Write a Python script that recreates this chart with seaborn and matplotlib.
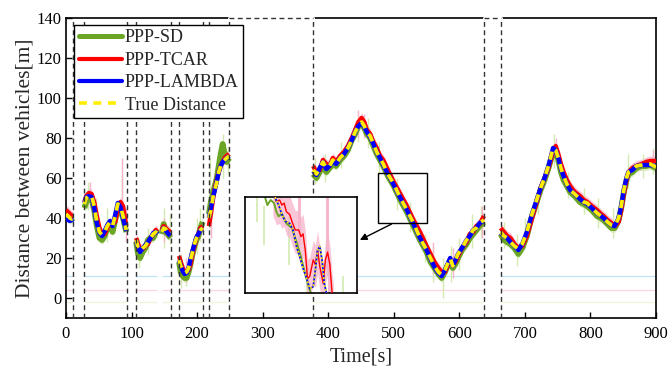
import numpy as np
import pandas as pd
import matplotlib
matplotlib.use("Agg")
import matplotlib.pyplot as plt
from matplotlib.lines import Line2D
from matplotlib.patches import Rectangle
import seaborn as sns

# ---------------- data ----------------
TIME = [0, 3, 6, 9, 11,
        28, 31, 35, 39, 43, 47, 51, 55, 59, 63, 67, 71, 75, 79, 83, 87, 92,
        107, 110, 113, 117, 121, 125, 129, 133, 137, 139.5,
        146, 149, 152, 155, 159.5,
        172.5, 175, 178, 181, 184, 187, 190, 193, 196, 199, 202, 205, 208.5,
        218, 221, 224, 227, 230, 233, 236, 239, 242, 245, 249,
        377, 382, 387, 392, 397, 402, 407, 412, 418, 424, 430, 436, 441, 446, 451, 455, 459, 464, 469, 474,
        479, 484, 491, 500, 510, 520, 530, 540, 550, 556, 562, 568, 573, 578, 582, 586, 590, 594, 598, 604,
        611, 616, 621, 626, 631, 637.5,
        663, 668, 673, 678, 684, 690, 696, 703, 710, 718, 724, 730, 736, 743, 747, 751, 755, 759, 764, 769,
        776, 784, 790, 795, 802, 810, 816, 820, 826, 832, 837, 843, 847, 851, 855, 858, 864, 870, 878, 885,
        891, 900]

TRUE_DIST = [42, 41, 40, 39.5, 40,
             47, 50, 51.5, 51, 46, 38, 33, 31.5, 33, 36, 38, 36, 41, 47, 46, 41, 34,
             29, 25, 23.5, 25, 26, 28, 30, 32, 33, 32,
             33, 35, 34.5, 33, 31,
             19, 16, 14, 12.5, 13, 15, 19, 23, 27, 30, 32, 34, 35,
             40, 44, 50, 54, 58, 63, 66, 68, 69, 70, 71,
             64, 62, 65, 68, 65, 66, 69, 67, 70, 72, 75, 79, 83, 86, 88, 86, 83, 81, 77, 73,
             70, 67, 62, 57, 50, 44, 37.5, 30, 24, 20, 16, 13, 11.5, 14, 17, 20, 16, 19, 22, 25,
             29, 31, 34, 35, 37.5, 39,
             33, 31, 30, 28, 26, 24.5, 27, 33, 41, 49, 55, 60, 66, 75, 74, 70, 65, 61, 57, 54,
             52, 49.5, 48, 47.5, 45, 42.5, 41, 40, 38, 36.5, 36, 40, 46, 54, 60, 63, 64, 66, 66.5, 67,
             67, 65.5]

PPP_TCAR = [44, 43, 42, 41, 41,
            48, 51, 52.5, 52, 48, 41, 35, 32, 32, 35, 38, 37, 38, 44, 48, 46, 36,
            30, 27, 24.5, 24.5, 26, 27, 30, 32, 34, 33,
            34, 36, 35, 34, 33,
            21, 18, 15, 13, 13, 14, 17, 22, 26, 30, 32, 35, 36,
            36, 42, 49, 55, 59, 63, 66, 68, 70, 71, 72,
            66, 63, 64, 69, 67, 66, 70, 68, 71, 73, 76, 80, 84, 88, 90, 88, 84, 82, 78, 75,
            71, 69, 64, 58, 52, 46, 39, 33, 26, 22, 18, 15, 13, 13, 16, 19, 18, 18, 21, 25,
            28, 32, 33, 36, 37, 41,
            35, 33, 31, 30, 27, 25, 26, 31, 39, 48, 55, 60, 65, 73, 76, 72, 67, 63, 59, 56,
            53, 51, 49, 48, 46, 44, 42, 41, 39, 37.5, 36, 38, 44, 52, 59, 63, 65, 66, 67, 68,
            68.5, 68.5]

PPP_LAMBDA = [40, 39, 38.5, 39, 39.5,
              47.5, 50.5, 51, 50.5, 45, 37.5, 32.5, 31, 33.5, 36.5, 38.5, 36, 41.5, 47.5, 45.5, 40, 33.5,
              28.5, 25, 23, 25, 26.5, 28, 30, 32.5, 33, 32,
              33, 35, 34, 32.5, 31,
              19, 16, 13.5, 12, 12.5, 15, 19.5, 23.5, 27, 30.5, 32, 34, 35,
              40, 45, 50, 54, 58.5, 63, 66, 68, 69, 70, 71,
              63.5, 61.5, 65, 68, 64.5, 66, 68.5, 67, 70, 72, 75, 79, 83, 86, 87.5, 85.5, 83, 80.5, 77, 73,
              70, 66.5, 62, 56.5, 50, 44, 37, 30, 24, 19.5, 15.5, 12.5, 11, 14, 17, 20, 16, 19, 22, 25,
              29, 31, 34, 35, 37.5, 38.5,
              32.5, 31, 30, 28, 26, 24, 27, 33, 41, 49, 55, 60, 66, 75, 74, 70, 64.5, 61, 57, 54,
              52, 49.5, 48, 47, 45, 42.5, 41, 40, 38, 36.5, 36, 40, 46, 54, 60, 63, 64, 66, 66.5, 66.5,
              66.5, 66]

PPP_SD = [41, 40.5, 39, 39.5, 40,
          45, 48, 50, 50, 44, 36, 30, 29, 31, 35, 37, 33, 39, 45, 44, 40, 33,
          28, 22, 20, 23, 25, 29, 30, 30, 33, 32,
          32, 37, 33, 32, 30,
          18, 13, 11, 10, 10, 13, 17, 22, 26, 29, 31, 35, 38,
          42, 48, 52, 56, 60, 66, 72, 77, 72, 68, 70,
          62, 60, 63, 67, 63, 65, 67, 66, 69, 71, 74, 79, 82, 86, 87, 85, 82, 80, 76, 72,
          69, 66, 61, 56, 49, 43, 36, 29, 23, 18, 15, 12, 10, 13, 16, 18, 15, 17, 20, 24,
          27, 30, 32, 34, 36, 38,
          32, 29, 28, 27, 25, 22, 25, 31, 40, 48, 54, 59, 65, 73, 73, 69, 63, 59, 56, 53,
          51, 48, 47, 46, 44, 41, 40, 39, 37, 35, 35, 39, 45, 53, 59, 62, 63, 65, 66, 66,
          66.5, 65]

# signal outage intervals (dashed boundaries) and a short data drop without markers
GAP_START = [11, 92.5, 160, 208.5, 249, 637.5]
GAP_END = [28, 107, 172.5, 218, 377, 663]
DROP_START = [139.5]
DROP_END = [146]
BIG_GAPS = [4, 5]

# thin vertical noise spikes (time, low, high)
SPIKE_SD_T = [33, 45, 63, 85, 112, 125, 150, 158, 176, 183, 200, 205, 219, 240, 247, 380, 395, 420, 445,
              460, 478, 505, 525, 548, 560, 575, 588, 600, 620, 633, 668, 688, 700, 720, 745, 765, 790,
              812, 835, 858, 880, 895]
SPIKE_SD_LO = [44, 35, 28, 38, 15, 22, 25, 27, 5, 6, 22, 28, 35, 60, 62, 57, 58, 65, 78,
               75, 62, 44, 33, 18, 8, 0, 8, 14, 25, 30, 25, 16, 25, 42, 65, 50, 42,
               35, 30, 55, 60, 62]
SPIKE_SD_HI = [58, 50, 45, 62, 30, 35, 45, 42, 22, 18, 40, 45, 70, 82, 76, 70, 72, 78, 92,
               90, 78, 60, 48, 32, 26, 20, 26, 30, 42, 46, 38, 32, 40, 56, 82, 63, 55,
               50, 45, 72, 72, 75]
SPIKE_TC_T = [36, 85, 92, 150, 183, 221, 445, 455, 560, 590, 634, 748, 895]
SPIKE_TC_LO = [45, 40, 28, 28, 8, 30, 80, 80, 12, 10, 30, 68, 66]
SPIKE_TC_HI = [58, 70, 45, 40, 20, 50, 94, 92, 28, 25, 46, 80, 74]

# faint reference levels drawn under the data periods
LEVEL_VALUES = [11.1, 4.0, -2.2]
LEVEL_COLORS = ["#bfe3f5", "#fbd5e2", "#eef5d8"]

# zoom window and inset data
ZOOM_X = [475.5, 550]
ZOOM_Y = [37.6, 62.3]
IN_T_TRUE = [494, 495.6, 497.9, 500.1, 502.3, 505.3, 507.5, 509.8, 512.0, 514.2, 516.5, 518.7, 521.0,
             522.4, 523.9, 525.4, 526.9, 528.4, 529.9, 531.4]
IN_V_TRUE = [64.3, 62.3, 60.3, 57.9, 56.1, 55.6, 53.9, 49.7, 47.0, 44.0, 41.6, 38.8, 39.3, 43.5, 48.7,
             49.7, 46.2, 40.1, 37.6, 35.1]
IN_T_TCAR = [494.1, 495.6, 496.4, 498.6, 500.1, 501.6, 503.1, 505.3, 506.8, 509.0, 511.3, 512.8, 514.2,
             515.7, 517.2, 518.7, 521.0, 522.4, 523.9, 525.4, 527.7, 529.1, 530.6, 532.1, 533.6, 534.4]
IN_V_TCAR = [63.5, 62.1, 61.2, 61.6, 60.3, 60.8, 58.6, 57.9, 56.1, 53.9, 53.9, 52.2, 52.9, 48.7, 41.3,
             42.0, 46.2, 45.0, 48.7, 44.5, 40.1, 46.2, 48.2, 45.0, 37.6, 35.1]
IN_T_SD = [487.4, 488.9, 490.4, 492.6, 494.9, 496.4, 497.9, 500.1, 503.1, 506.8, 509.8, 512.8, 515.7,
           518.0, 519.5, 521.0]
IN_V_SD = [63.5, 62.3, 60.3, 61.6, 60.8, 58.6, 57.4, 58.1, 55.6, 54.4, 50.9, 47.0, 42.5, 39.3, 37.6, 35.1]
IN_SPIKE_T = [483.5, 488, 505, 517, 531, 541]
IN_SPIKE_LO = [56, 50, 45, 37.6, 42, 37.6]
IN_SPIKE_HI = [62.3, 60, 58, 45, 62.3, 42]
IN_PSPIKE_T = [511.3, 529.9, 531.5]
IN_PSPIKE_LO = [50, 44, 37.6]
IN_PSPIKE_HI = [62.3, 62.3, 46]

# ---------------- styling ----------------
sns.set_style("ticks")
plt.rcParams["font.family"] = ["Liberation Serif", "DejaVu Serif"]

C_SD = "#6aa523"
C_TC = "#ff0000"
C_LB = "#0000ff"
C_TR = "#ffee00"
C_PINK = "#f7b3cc"
C_LGREEN = "#d3eab0"

fig = plt.figure(figsize=(6.71, 3.79), dpi=100)
ax = fig.add_axes([66 / 671, 1 - 318 / 379, 590 / 671, 300 / 379])

t = np.array(TIME, dtype=float)
bounds = sorted(GAP_START + DROP_START)
seg = np.digitize(t, bounds, right=True)
df = pd.DataFrame({"t": t, "seg": seg, "true": TRUE_DIST, "tcar": PPP_TCAR,
                   "lambda": PPP_LAMBDA, "sd": PPP_SD})

for s, g in df.groupby("seg"):
    for val, col in zip(LEVEL_VALUES, LEVEL_COLORS):
        ax.hlines(val, g.t.min(), g.t.max(), color=col, lw=0.9, zorder=1)

for s, g in df.groupby("seg"):
    ax.fill_between(g.t, g.sd - 2.2, g.sd + 2.2, color=C_LGREEN, lw=0, zorder=1.5, alpha=0.8)
    ax.fill_between(g.t, g.tcar - 2.5, g.tcar + 2.5, color=C_PINK, lw=0, zorder=1.6, alpha=0.75)
ax.vlines(SPIKE_SD_T, SPIKE_SD_LO, SPIKE_SD_HI, color=C_LGREEN, lw=1.0, zorder=1.7)
ax.vlines(SPIKE_TC_T, SPIKE_TC_LO, SPIKE_TC_HI, color=C_PINK, lw=1.0, zorder=1.7)

sns.lineplot(data=df, x="t", y="sd", units="seg", estimator=None, color=C_SD, lw=4.2,
             ax=ax, zorder=3, solid_capstyle="butt")
sns.lineplot(data=df, x="t", y="tcar", units="seg", estimator=None, color=C_TC, lw=3.2,
             ax=ax, zorder=4, solid_capstyle="butt")
sns.lineplot(data=df, x="t", y="lambda", units="seg", estimator=None, color=C_LB, lw=3.2,
             ax=ax, zorder=5, solid_capstyle="butt")
sns.lineplot(data=df, x="t", y="true", units="seg", estimator=None, color=C_TR, lw=2.7,
             ax=ax, zorder=6, linestyle=(0, (2.2, 1.8)))

ax.set_xlim(0, 900)
ax.set_ylim(-10, 140)
ax.set_xticks(np.arange(0, 901, 100))
ax.set_yticks(np.arange(0, 141, 20))
ax.tick_params(direction="in", length=4.5, width=1.0, labelsize=12, top=False, right=False,
               colors="black")
ax.tick_params(axis="x", pad=6)
ax.tick_params(axis="y", pad=3)
for sp in ax.spines.values():
    sp.set_visible(True)
    sp.set_linewidth(1.2)
    sp.set_color("black")
ax.set_xlabel("Time[s]", fontsize=14.5, labelpad=4)
ax.set_ylabel("Distance between vehicles[m]", fontsize=15.5, labelpad=2)

for i, (a, b) in enumerate(zip(GAP_START, GAP_END)):
    for x in (a, b):
        ax.axvline(x, color="#333333", lw=1.0, linestyle=(0, (3.5, 2.5)), zorder=7)
    if i in BIG_GAPS:
        ax.plot([a, b], [140, 140], color="white", lw=2.2, clip_on=False, zorder=8)
        ax.plot([a, b], [140, 140], color="#333333", lw=1.0, linestyle=(0, (3.5, 2.5)),
                clip_on=False, zorder=8.5)

ax.add_patch(Rectangle((ZOOM_X[0], ZOOM_Y[0]), ZOOM_X[1] - ZOOM_X[0], ZOOM_Y[1] - ZOOM_Y[0],
                       fill=False, edgecolor="black", lw=1.0, zorder=9))
ax.annotate("", xy=(444.5, 28.4), xytext=(500.3, ZOOM_Y[0]),
            arrowprops=dict(arrowstyle="-|>", color="black", lw=1.0, mutation_scale=10),
            zorder=9)

handles = [Line2D([], [], color=C_SD, lw=3.6),
           Line2D([], [], color=C_TC, lw=3.0),
           Line2D([], [], color=C_LB, lw=3.0),
           Line2D([], [], color=C_TR, lw=2.6, linestyle=(0, (2.2, 1.8)))]
labels = ["PPP-SD", "PPP-TCAR", "PPP-LAMBDA", "True Distance"]
leg = ax.legend(handles, labels, loc="upper left", bbox_to_anchor=(0.0136, 0.977),
                borderaxespad=0, fontsize=13, frameon=True, fancybox=False, framealpha=1,
                edgecolor="black", handlelength=2.4, handletextpad=0.15, borderpad=0.25,
                labelspacing=0.3)
leg.get_frame().set_linewidth(1.0)
leg.set_zorder(12)

axin = fig.add_axes([245 / 671, 1 - 293.3 / 379, 111.7 / 671, 96 / 379], zorder=10)
axin.set_facecolor("white")
axin.vlines(IN_SPIKE_T, IN_SPIKE_LO, IN_SPIKE_HI, color=C_LGREEN, lw=1.2, zorder=1)
it = np.array(IN_T_TCAR)
iv = np.array(IN_V_TCAR)
axin.fill_between(it, iv - 6.0, iv + 5.0, color=C_PINK, lw=0, alpha=0.75, zorder=1.5)
axin.vlines(IN_PSPIKE_T, IN_PSPIKE_LO, IN_PSPIKE_HI, color=C_PINK, lw=2.0, zorder=1.6)
sns.lineplot(x=IN_T_SD, y=IN_V_SD, color=C_SD, lw=1.4, ax=axin, zorder=2, estimator=None)
sns.lineplot(x=IN_T_TCAR, y=IN_V_TCAR, color=C_TC, lw=1.0, ax=axin, zorder=3, estimator=None)
sns.lineplot(x=IN_T_TRUE, y=IN_V_TRUE, color=C_LB, lw=1.2, ax=axin, zorder=4, estimator=None)
sns.lineplot(x=IN_T_TRUE, y=IN_V_TRUE, color=C_TR, lw=1.2, ax=axin, zorder=5, estimator=None,
             linestyle=(0, (1.2, 1.2)))
axin.set_xlim(*ZOOM_X)
axin.set_ylim(*ZOOM_Y)
axin.set_xticks([])
axin.set_yticks([])
axin.set_xlabel("")
axin.set_ylabel("")
for sp in axin.spines.values():
    sp.set_visible(True)
    sp.set_linewidth(1.2)
    sp.set_color("black")

fig.savefig("out.png", dpi=100)
